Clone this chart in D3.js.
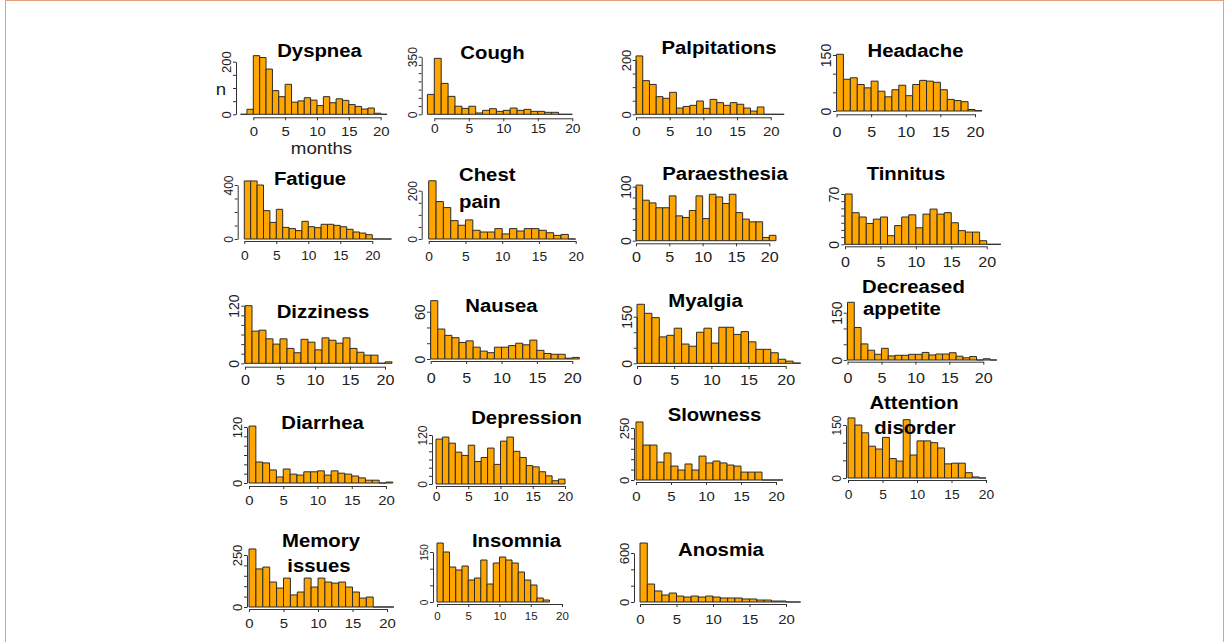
<!DOCTYPE html>
<meta charset="utf-8">
<style>
body { margin: 0; background: #fff; }
svg { display: block; }
.title { font-family: "Liberation Sans", Arial, sans-serif; font-weight: bold; fill: #000; }
.axis text { font-family: "Liberation Sans", Arial, sans-serif; fill: #222; }
.axis path, .axis line { stroke: #333; stroke-width: 1; }
.lab { font-family: "Liberation Sans", Arial, sans-serif; fill: #222; }
</style>
<svg width="1229" height="642"></svg>
<script src="https://d3js.org/d3.v7.min.js"></script>
<script>

// symptoms, in reading order
var symptoms = ["Dyspnea", "Cough", "Palpitations", "Headache",
                "Fatigue", "Chest pain", "Paraesthesia", "Tinnitus",
                "Dizziness", "Nausea", "Myalgia", "Decreased appetite",
                "Diarrhea", "Depression", "Slowness", "Attention disorder",
                "Memory issues", "Insomnia", "Anosmia"];
var titleLines = [["Dyspnea"], ["Cough"], ["Palpitations"], ["Headache"],
                  ["Fatigue"], ["Chest", "pain"], ["Paraesthesia"], ["Tinnitus"],
                  ["Dizziness"], ["Nausea"], ["Myalgia"], ["Decreased", "appetite"],
                  ["Diarrhea"], ["Depression"], ["Slowness"], ["Attention", "disorder"],
                  ["Memory", "issues"], ["Insomnia"], ["Anosmia"]];

// first month bin of each histogram, then counts per 1-month bin (n)
var binStart = [-2, -1, 0, 0, 0, 0, 0, 0, 0, 0, 0, 0, 0, 0, 0, 0, 0, 0, 0];

var dyspnea      = [0, 19, 223, 216, 172, 90, 67, 114, 46, 51, 63, 54, 33, 67, 44, 59, 53, 37, 30, 20, 24, 4, 0];
var cough        = [121, 340, 188, 109, 49, 36, 49, 8, 24, 34, 18, 24, 38, 24, 30, 18, 18, 12, 12, 0, 0];
var palpitations = [215, 124, 110, 65, 59, 81, 23, 29, 33, 49, 22, 55, 43, 33, 43, 37, 23, 12, 27, 0, 0, 0];
var headache     = [152, 85, 89, 71, 62, 80, 53, 38, 57, 69, 41, 71, 82, 80, 77, 57, 31, 28, 25, 4, 1];
var fatigue      = [430, 430, 400, 210, 123, 220, 86, 77, 62, 131, 91, 84, 109, 109, 101, 91, 72, 52, 44, 32, 0, 0, 0];
var chestPain    = [241, 155, 130, 76, 57, 79, 36, 29, 29, 43, 21, 43, 33, 43, 43, 36, 26, 15, 19, 0];
var paraesthesia = [103, 75, 70, 61, 61, 83, 46, 43, 56, 83, 41, 86, 81, 69, 86, 52, 40, 35, 35, 6, 10];
var tinnitus     = [70, 44, 38, 29, 35, 38, 12, 26, 38, 41, 23, 42, 49, 42, 44, 30, 19, 17, 17, 5, 0, 0];
var dizziness    = [120, 67, 69, 51, 40, 51, 31, 22, 50, 44, 28, 53, 48, 42, 53, 31, 23, 17, 17, 0, 3];
var nausea       = [74, 38, 30, 27, 21, 23, 15, 10, 8, 15, 15, 17, 20, 18, 24, 11, 7, 6, 6, 1, 2];
var myalgia      = [190, 161, 147, 85, 90, 113, 62, 55, 100, 113, 65, 116, 116, 93, 102, 69, 45, 45, 34, 13, 7, 1];
var appetite     = [183, 103, 51, 31, 18, 37, 13, 15, 15, 18, 18, 24, 16, 19, 19, 23, 12, 7, 11, 0, 4, 0];
var diarrhea     = [122, 45, 43, 28, 13, 30, 19, 17, 24, 24, 26, 17, 26, 21, 19, 15, 11, 6, 6, 0, 2];
var depression   = [110, 115, 100, 78, 70, 95, 55, 65, 88, 48, 105, 115, 80, 65, 45, 42, 30, 20, 8, 12];
var slowness     = [279, 168, 168, 86, 130, 67, 48, 77, 48, 115, 82, 91, 82, 72, 67, 38, 38, 38, 0, 0, 0];
var attention    = [170, 150, 128, 90, 82, 115, 55, 48, 165, 65, 105, 105, 100, 85, 40, 42, 42, 15, 3, 0];
var memory       = [279, 183, 192, 120, 91, 139, 58, 72, 139, 96, 139, 120, 115, 120, 96, 72, 43, 48, 0, 0, 0];
var insomnia     = [177, 150, 105, 96, 108, 66, 72, 126, 54, 117, 135, 126, 117, 90, 66, 51, 12, 6];
var anosmia      = [722, 220, 135, 86, 110, 73, 61, 73, 61, 73, 61, 49, 49, 49, 37, 37, 24, 24, 12, 12, 0, 0];

var counts = [dyspnea, cough, palpitations, headache, fatigue, chestPain, paraesthesia, tinnitus,
              dizziness, nausea, myalgia, appetite, diarrhea, depression, slowness, attention,
              memory, insomnia, anosmia];

// axis ticks
var xTickValues = [0, 5, 10, 15, 20];
var yTopLabel = [200, 350, 200, 150, 400, 200, 100, 70, 120, 60, 150, 150, 120, 120, 250, 150, 250, 150, 600];
var yStep     = [50, 50, 50, 50, 100, 50, 20, 10, 20, 20, 50, 50, 20, 20, 50, 50, 50, 50, 200];
var axisTitles = ["n", "months"];

// panel placement in pixels (ax: y axis x, x0/x20: month 0/20, base: n=0, topY: top tick,
// axisY: x axis line, labY: x label baseline, fs: tick font, tp: title anchor points)
var layout = [
  {ax: 236,   x0: 253.3, x20: 380.7, base: 114.3, topY: 61.7,  axisY: 117.3, labY: 136,   fs: 13, tp: [[319.5, 57.3]]},
  {ax: 421.7, x0: 434.3, x20: 572.3, base: 114.3, topY: 56.7,  axisY: 118.3, labY: 133.3, fs: 12, tp: [[492.5, 59.3]]},
  {ax: 635.7, x0: 636,   x20: 770.7, base: 114.3, topY: 60,    axisY: 117.3, labY: 136,   fs: 13, tp: [[719, 54]]},
  {ax: 836,   x0: 836.5, x20: 975,   base: 111,   topY: 55,    axisY: 114.3, labY: 136.7, fs: 14, tp: [[915.5, 56.7]]},
  {ax: 237.7, x0: 244.3, x20: 372.3, base: 239,   topY: 185,   axisY: 241,   labY: 260,   fs: 12, tp: [[310, 185]]},
  {ax: 421.7, x0: 428.7, x20: 575.7, base: 239,   topY: 190.7, axisY: 241,   labY: 261,   fs: 12, tp: [[459, 181], [459, 207.7]], anchor: "start"},
  {ax: 635.7, x0: 636,   x20: 769.3, base: 240.7, topY: 186.7, axisY: 243.3, labY: 261.7, fs: 14, tp: [[725, 180]]},
  {ax: 844.3, x0: 845,   x20: 986.7, base: 244.3, topY: 194,   axisY: 246.3, labY: 266.7, fs: 14, tp: [[906, 180]]},
  {ax: 244.3, x0: 245,   x20: 385,   base: 363.3, topY: 305.7, axisY: 366.7, labY: 385,   fs: 14, tp: [[323, 317.7]]},
  {ax: 430,   x0: 430.7, x20: 572.3, base: 359,   topY: 311.7, axisY: 361,   labY: 383.3, fs: 14, tp: [[501.5, 311.7]]},
  {ax: 636.7, x0: 637,   x20: 785.7, base: 363.3, topY: 316.7, axisY: 366,   labY: 385,   fs: 14, tp: [[705.5, 306.7]]},
  {ax: 846.7, x0: 847.5, x20: 983.3, base: 360,   topY: 312.7, axisY: 361.7, labY: 383.3, fs: 14, tp: [[862, 292.7], [863, 315]], anchor: "start"},
  {ax: 247,   x0: 249,   x20: 386,   base: 483,   topY: 427,   axisY: 486,   labY: 505,   fs: 13, tp: [[322.5, 429]]},
  {ax: 432,   x0: 436,   x20: 565,   base: 484,   topY: 435,   axisY: 486,   labY: 501,   fs: 12, tp: [[526.5, 424]]},
  {ax: 634,   x0: 636,   x20: 776,   base: 480,   topY: 428,   axisY: 482,   labY: 501,   fs: 13, tp: [[714.5, 421]]},
  {ax: 846,   x0: 848,   x20: 986,   base: 478,   topY: 425,   axisY: 480,   labY: 499,   fs: 12, tp: [[914, 409], [915, 434]]},
  {ax: 247,   x0: 249,   x20: 387,   base: 607,   topY: 555,   axisY: 609,   labY: 628,   fs: 13, tp: [[321, 547], [319, 572]]},
  {ax: 433,   x0: 437,   x20: 562,   base: 602,   topY: 552,   axisY: 604,   labY: 620,   fs: 10, tp: [[516.5, 547]]},
  {ax: 634,   x0: 640,   x20: 786,   base: 602,   topY: 553,   axisY: 604,   labY: 624,   fs: 13, tp: [[721, 556]]}
];

var svg = d3.select("svg");
var stretch = 1.15;

svg.append("rect")
    .attr("x", 5.5).attr("y", 0.5)
    .attr("width", 1218).attr("height", 650)
    .attr("fill", "none")
    .attr("stroke", "#e6a07c");

layout.forEach(function(L, i) {
  var g = svg.append("g").attr("class", "panel");
  var top = yTopLabel[i];
  var x = d3.scaleLinear().domain([0, 20]).range([L.x0, L.x20]);
  var y = d3.scaleLinear().domain([0, top]).range([L.base, L.topY]);

  var bins = counts[i].map(function(v, k) { return {m: binStart[i] + k, n: v}; });

  // bars as closed paths so empty bins still show as a flat line
  g.selectAll("path.bar")
      .data(bins)
    .enter().append("path")
      .attr("class", "bar")
      .attr("d", function(d) {
        var p = d3.path();
        p.moveTo(x(d.m), L.base);
        p.lineTo(x(d.m), y(d.n));
        p.lineTo(x(d.m + 1), y(d.n));
        p.lineTo(x(d.m + 1), L.base);
        p.closePath();
        return p.toString();
      })
      .attr("fill", "#FFA500")
      .attr("stroke", "#2b2b2b")
      .attr("stroke-width", 1);

  // x axis
  var xa = g.append("g")
      .attr("class", "axis")
      .attr("transform", "translate(0," + L.axisY + ")")
      .call(d3.axisBottom(x).tickValues(xTickValues).tickSize(3).tickSizeOuter(0));
  xa.selectAll("text")
      .attr("y", 0).attr("dy", 0)
      .attr("transform", "translate(0," + (L.labY - L.axisY) + ") scale(" + stretch + ",1)")
      .style("font-size", L.fs + "px");

  // y axis, only 0 and top labelled, labels parallel to axis
  var ya = g.append("g")
      .attr("class", "axis")
      .attr("transform", "translate(" + L.ax + ",0)")
      .call(d3.axisLeft(y).tickValues(d3.range(0, top + 1, yStep[i])).tickSize(3).tickSizeOuter(0)
        .tickFormat(function(d) { return (d === 0 || d === top) ? d : ""; }));
  ya.selectAll("text")
      .attr("x", 0).attr("dy", 0)
      .attr("text-anchor", "middle")
      .attr("transform", "translate(-5,0) rotate(-90)")
      .style("font-size", L.fs + "px");

  // title
  titleLines[i].forEach(function(line, j) {
    g.append("text")
        .attr("class", "title")
        .attr("text-anchor", L.anchor || "middle")
        .attr("transform", "translate(" + L.tp[j][0] + "," + L.tp[j][1] + ") scale(1.13,1)")
        .style("font-size", "18px")
        .text(line);
  });
});

// axis titles of the first panel
svg.append("text").attr("class", "lab")
    .attr("text-anchor", "middle")
    .attr("transform", "translate(221,95) scale(1.1,1)")
    .style("font-size", "17px")
    .text(axisTitles[0]);
svg.append("text").attr("class", "lab")
    .attr("text-anchor", "middle")
    .attr("transform", "translate(321.5,154) scale(1.1,1)")
    .style("font-size", "17px")
    .text(axisTitles[1]);

</script>
